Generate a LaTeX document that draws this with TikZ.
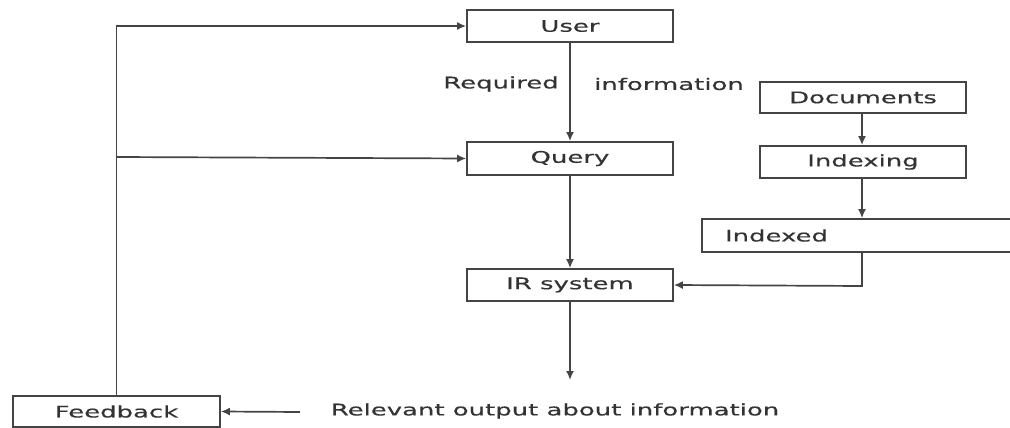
\documentclass[tikz,border=0pt]{standalone}
\usepackage{fontspec}
\newfontfamily\vf[FakeStretch=1.62,FakeBold=0.4]{DejaVu Sans}
\usetikzlibrary{arrows.meta}
\definecolor{ln}{HTML}{444444}
\definecolor{tx}{HTML}{333333}
\begin{document}
\begin{tikzpicture}[x=1pt,y=-1pt,
  box/.style={draw=ln, line width=1.7pt, minimum width=206pt, minimum height=32pt, inner sep=0pt, text=tx, font=\vf\fontsize{16}{18}\selectfont},
  lbl/.style={text=tx, inner sep=0pt, font=\vf\fontsize{16}{18}\selectfont},
  arr/.style={draw=ln, line width=1.7pt, -{Latex[length=9pt,width=8pt]}}]
\useasboundingbox (0,0) rectangle (1010,428);
\node[box] (user) at (570,26) {User};
\node[box, minimum height=33pt] (query) at (570,158.5) {Query};
\node[box] (ir) at (570,285) {IR system};
\node[box, minimum height=31pt] (docs) at (863,97.5) {Documents};
\node[box] (idxg) at (863,162) {Indexing};
\node[box, minimum width=313pt, minimum height=33pt, text width=267pt, align=left] (idxd) at (858.5,235.5) {Indexed};
\node[box, minimum width=207pt, minimum height=31pt] (fb) at (116.5,411.5) {Feedback};
\node[lbl] (req) at (501,84) {Required};
\node[lbl] (inf) at (669,84) {information};
\node[lbl] (rel) at (555,411) {Relevant output about information};
\coordinate (out) at (570,380);
\coordinate (relend) at (300,412);
\coordinate (corner) at (862,286);
\coordinate (branch) at (116.5,157);
\draw[arr] (fb.north) |- (user.west);
\draw[arr] (branch) -- (query.west);
\draw[arr] (user) -- (query);
\draw[arr] (query) -- (ir);
\draw[arr] (ir) -- (out);
\draw[arr] (docs.south -| 862,0) -- (idxg.north -| 862,0);
\draw[arr] (idxg.south -| 862,0) -- (idxd.north -| 862,0);
\draw[arr] (idxd.south -| 862,0) -- (corner) -- (ir.east);
\draw[arr] (relend) -- (fb.east);
\end{tikzpicture}
\end{document}
